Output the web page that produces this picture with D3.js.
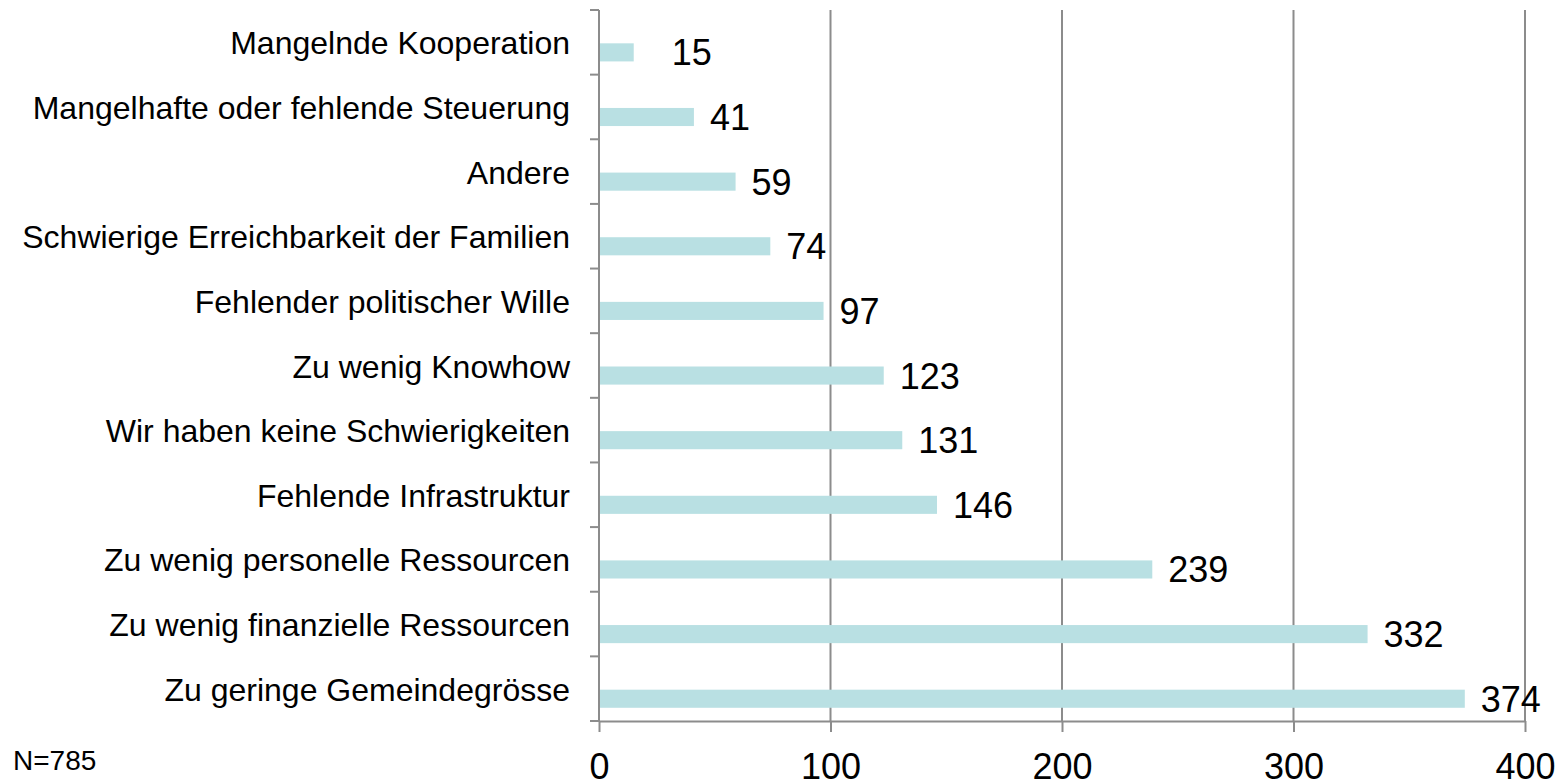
<!DOCTYPE html>
<html>
<head>
<meta charset="utf-8">
<script src="https://cdn.jsdelivr.net/npm/d3@7"></script>
<style>
  body { margin: 0; background: #fff; }
  svg text { font-family: "Liberation Sans", Arial, sans-serif; fill: #000; }
</style>
</head>
<body>
<svg id="chart" width="1563" height="780"></svg>
<script>
// categories, top to bottom
var categories = [
  "Mangelnde Kooperation",
  "Mangelhafte oder fehlende Steuerung",
  "Andere",
  "Schwierige Erreichbarkeit der Familien",
  "Fehlender politischer Wille",
  "Zu wenig Knowhow",
  "Wir haben keine Schwierigkeiten",
  "Fehlende Infrastruktur",
  "Zu wenig personelle Ressourcen",
  "Zu wenig finanzielle Ressourcen",
  "Zu geringe Gemeindegrösse"
];
var values = [15, 41, 59, 74, 97, 123, 131, 146, 239, 332, 374];
var xTicks = [0, 100, 200, 300, 400];
var note = "N=785";

var svg = d3.select("#chart");

// note: "top" would clash with window.top
var plotLeft = 599, plotRight = 1525, plotTop = 10, plotBottom = 721;
var gridColor = "#8c8c8c";

var x = d3.scaleLinear().domain([0, 400]).range([plotLeft, plotRight]);
var y = d3.scaleBand().domain(categories).range([plotTop, plotBottom]).padding(0);
var bw = y.bandwidth();

var rows = categories.map(function(c, i) { return { name: c, value: values[i] }; });

// vertical gridlines
svg.append("g")
  .selectAll("line")
  .data(xTicks.slice(1))
  .enter().append("line")
  .attr("x1", function(d) { return x(d); })
  .attr("x2", function(d) { return x(d); })
  .attr("y1", plotTop)
  .attr("y2", plotBottom)
  .attr("stroke", gridColor)
  .attr("stroke-width", 2);

// bars
svg.append("g")
  .selectAll("rect")
  .data(rows)
  .enter().append("rect")
  .attr("x", x(0))
  .attr("y", function(d) { return y(d.name) + bw * 0.5 + 1; })
  .attr("width", function(d) { return x(d.value) - x(0); })
  .attr("height", bw * 0.28)
  .attr("fill", "#b9e0e3");

// value labels
svg.append("g")
  .selectAll("text")
  .data(rows)
  .enter().append("text")
  .attr("x", function(d) { return x(d.value) + (d.value < 20 ? 38 : 16); })
  .attr("y", function(d) { return y(d.name) + bw * 0.5 + 10 + 13; })
  .attr("font-size", 36)
  .text(function(d) { return d.value; });

// bottom axis
var xAxis = d3.axisBottom(x)
  .tickValues(xTicks)
  .tickSize(11)
  .tickPadding(21)
  .tickSizeOuter(0);

var gx = svg.append("g")
  .attr("transform", "translate(0," + plotBottom + ")")
  .call(xAxis);
gx.select(".domain").attr("stroke", gridColor).attr("stroke-width", 2);
gx.selectAll(".tick line").attr("stroke", gridColor).attr("stroke-width", 2);
gx.selectAll(".tick text")
  .attr("font-size", 36)
  .attr("font-family", "Liberation Sans, Arial, sans-serif")
  .attr("fill", "#000");

// left axis line
svg.append("line")
  .attr("x1", plotLeft).attr("x2", plotLeft)
  .attr("y1", plotTop).attr("y2", plotBottom)
  .attr("stroke", gridColor)
  .attr("stroke-width", 2);

// category boundary ticks
var bounds = categories.map(function(c) { return y(c); }).concat([plotBottom]);
svg.append("g")
  .selectAll("line")
  .data(bounds)
  .enter().append("line")
  .attr("x1", plotLeft - 9).attr("x2", plotLeft)
  .attr("y1", function(d) { return d; })
  .attr("y2", function(d) { return d; })
  .attr("stroke", gridColor)
  .attr("stroke-width", 2);

// category labels
svg.append("g")
  .selectAll("text")
  .data(rows)
  .enter().append("text")
  .attr("x", plotLeft - 29)
  .attr("y", function(d) { return y(d.name) + bw / 2 + 12; })
  .attr("text-anchor", "end")
  .attr("font-size", 32)
  .text(function(d) { return d.name; });

// sample size note
svg.append("text")
  .attr("x", 13)
  .attr("y", 770)
  .attr("font-size", 28)
  .text(note);
</script>
</body>
</html>
